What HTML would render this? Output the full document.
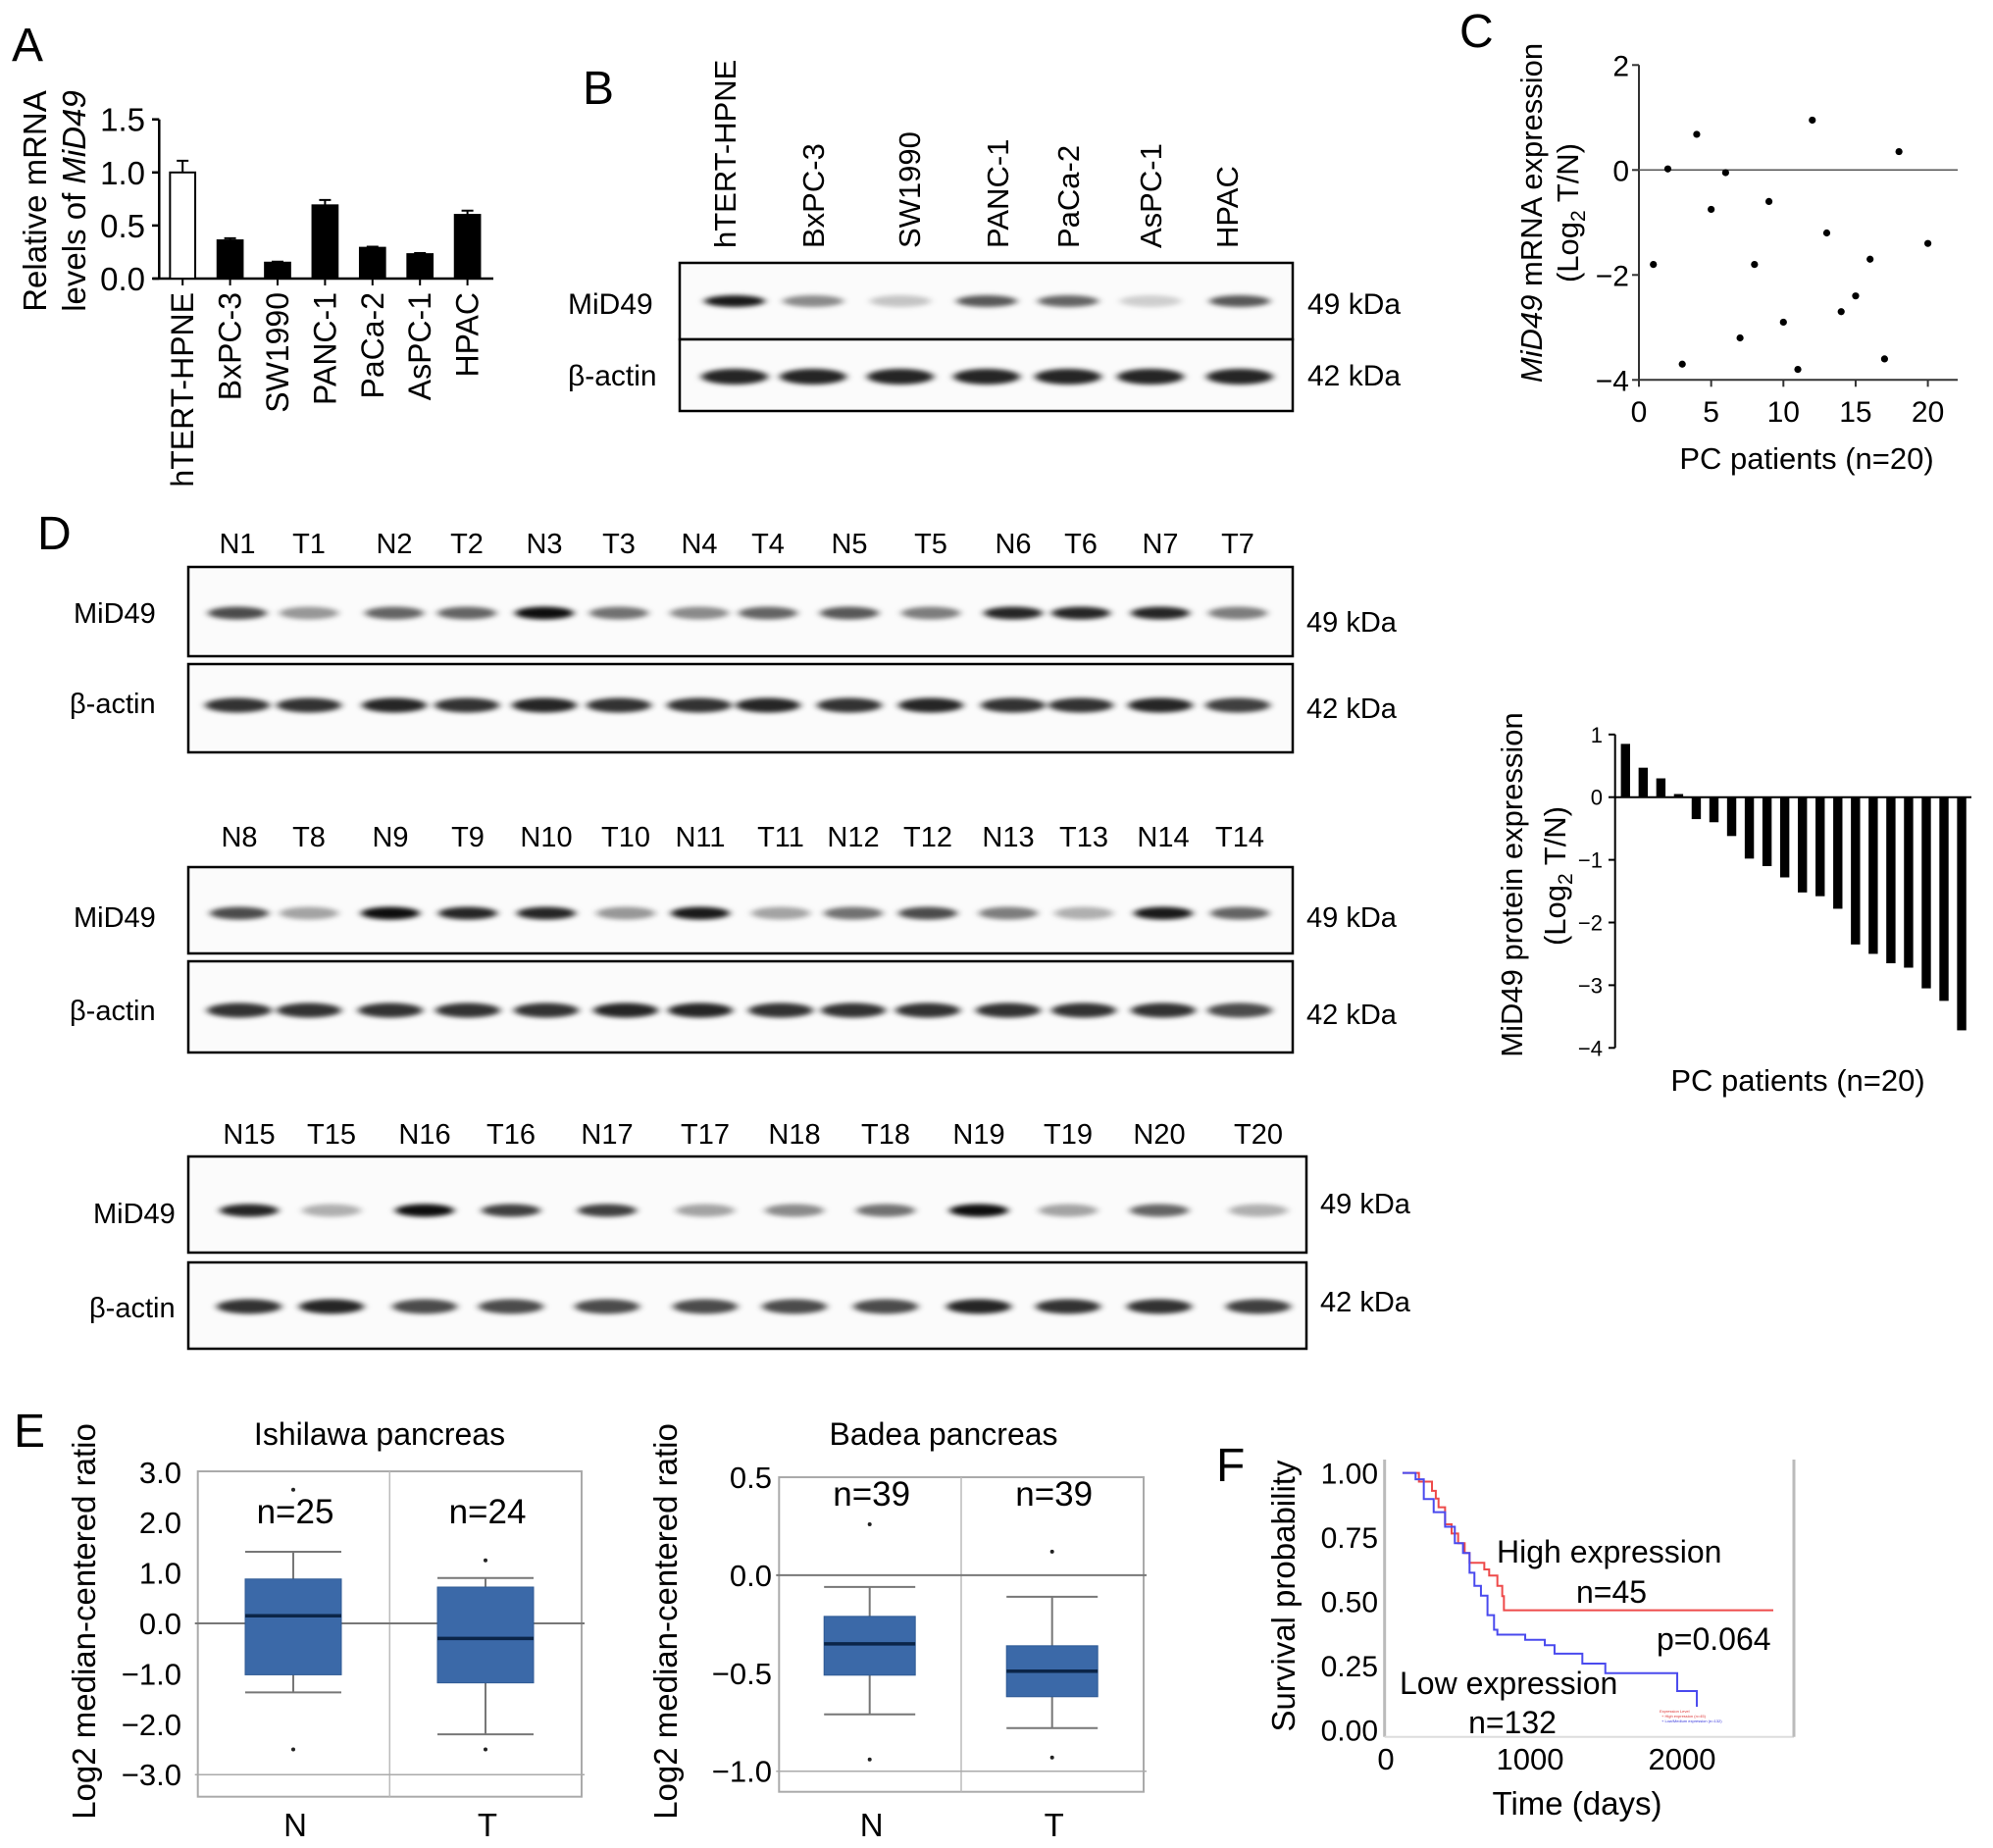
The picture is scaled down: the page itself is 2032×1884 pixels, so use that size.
<!DOCTYPE html>
<html><head><meta charset="utf-8">
<style>
body{margin:0;background:#fff}
svg{display:block;font-family:"Liberation Sans",Arial,sans-serif}
</style></head>
<body>
<svg id="fig" width="2032" height="1884" viewBox="0 0 2032 1884" xmlns="http://www.w3.org/2000/svg">
<defs>
<filter id="blur" x="-50%" y="-150%" width="200%" height="400%"><feGaussianBlur stdDeviation="4 2.5"/></filter>
</defs>
<rect x="0" y="0" width="2032" height="1884" fill="#fff"/>
<!-- panel letters -->
<text x="12" y="62" font-size="48">A</text>
<text x="594" y="106" font-size="48">B</text>
<text x="1488" y="48" font-size="48">C</text>
<text x="38" y="560" font-size="48">D</text>
<text x="14" y="1475" font-size="48">E</text>
<text x="1240" y="1510" font-size="48">F</text>

<!-- A titles -->
<text transform="translate(47,205) rotate(-90)" text-anchor="middle" font-size="33">Relative mRNA</text>
<text transform="translate(87,205) rotate(-90)" text-anchor="middle" font-size="33">levels of <tspan font-style="italic">MiD49</tspan></text>

<!-- B blot labels -->
<text x="579" y="320" font-size="30">MiD49</text>
<text x="579" y="393" font-size="30">β-actin</text>
<text x="1333" y="320" font-size="30">49 kDa</text>
<text x="1333" y="393" font-size="30">42 kDa</text>

<!-- C titles -->
<text transform="translate(1572,217) rotate(-90)" text-anchor="middle" font-size="31"><tspan font-style="italic">MiD49</tspan> mRNA expression</text>
<text transform="translate(1609,217) rotate(-90)" text-anchor="middle" font-size="31">(Log<tspan font-size="21" dy="7">2</tspan><tspan dy="-7"> T/N)</tspan></text>
<text x="1842" y="478" text-anchor="middle" font-size="31">PC patients (n=20)</text>

<!-- D bar chart titles -->
<text transform="translate(1552,902) rotate(-90)" text-anchor="middle" font-size="31">MiD49 protein expression</text>
<text transform="translate(1596,893) rotate(-90)" text-anchor="middle" font-size="31">(Log<tspan font-size="21" dy="7">2</tspan><tspan dy="-7"> T/N)</tspan></text>
<text x="1833" y="1112" text-anchor="middle" font-size="31">PC patients (n=20)</text>

<!-- E titles -->
<text x="387" y="1473" text-anchor="middle" font-size="32">Ishilawa pancreas</text>
<text transform="translate(97,1653) rotate(-90)" text-anchor="middle" font-size="33">Log2 median-centered ratio</text>
<text x="962" y="1473" text-anchor="middle" font-size="32">Badea pancreas</text>
<text transform="translate(690,1653) rotate(-90)" text-anchor="middle" font-size="33">Log2 median-centered ratio</text>

<!-- F texts -->
<text transform="translate(1320,1627) rotate(-90)" text-anchor="middle" font-size="33">Survival probability</text>
<text x="1608" y="1850" text-anchor="middle" font-size="33">Time (days)</text>
<text x="1526" y="1593" font-size="32">High expression</text>
<text x="1643" y="1634" text-anchor="middle" font-size="32">n=45</text>
<text x="1689" y="1682" font-size="32">p=0.064</text>
<text x="1427" y="1727" font-size="32">Low expression</text>
<text x="1542" y="1767" text-anchor="middle" font-size="32">n=132</text>
<g font-size="4">
<text x="1692" y="1746" fill="#d33">Expression Level</text>
<text x="1694" y="1751" fill="#d33">+ High expression (n=45)</text>
<text x="1694" y="1756" fill="#33d">+ Low/Medium expression (n=132)</text>
</g>
<g id="layer"></g>
</svg>
<script>
// ---------- Panel A data ----------
const aCats=['hTERT-HPNE','BxPC-3','SW1990','PANC-1','PaCa-2','AsPC-1','HPAC'];
const aVals=[1.0,0.36,0.15,0.69,0.29,0.23,0.60];
const aErr=[0.11,0.02,0.01,0.05,0.01,0.01,0.04];
const aTicks=[0,0.5,1.0,1.5];
const aTickLabels=['0.0','0.5','1.0','1.5'];
// ---------- Panel B data ----------
const bLanes=['hTERT-HPNE','BxPC-3','SW1990','PANC-1','PaCa-2','AsPC-1','HPAC'];
const bMid49=[0.9,0.45,0.22,0.65,0.6,0.18,0.65];
const bActin=[0.85,0.85,0.85,0.85,0.85,0.85,0.85];
// ---------- Panel C data ----------
const cPatients=[1,2,3,4,5,6,7,8,9,10,11,12,13,14,15,16,17,18,20];
const cValues=[-1.8,0.02,-3.7,0.68,-0.75,-0.05,-3.2,-1.8,-0.6,-2.9,-3.8,0.95,-1.2,-2.7,-2.4,-1.7,-3.6,0.35,-1.4];
const cYTicks=[2,0,-2,-4];
const cYTickLabels=['2','0','\u22122','\u22124'];
const cXTicks=[0,5,10,15,20];
// ---------- Panel D blots ----------
const dLanes1=['N1','T1','N2','T2','N3','T3','N4','T4','N5','T5','N6','T6','N7','T7'];
const dMid1=[0.7,0.4,0.6,0.6,0.95,0.55,0.45,0.6,0.65,0.5,0.85,0.85,0.85,0.5];
const dLanes2=['N8','T8','N9','T9','N10','T10','N11','T11','N12','T12','N13','T13','N14','T14'];
const dMid2=[0.7,0.35,0.95,0.85,0.85,0.4,0.9,0.35,0.55,0.7,0.5,0.3,0.9,0.6];
const dLanes3=['N15','T15','N16','T16','N17','T17','N18','T18','N19','T19','N20','T20'];
const dMid3=[0.85,0.3,0.95,0.75,0.75,0.35,0.45,0.55,0.95,0.35,0.6,0.3];
const dActin1=[0.8,0.8,0.85,0.8,0.85,0.8,0.8,0.85,0.8,0.85,0.8,0.8,0.85,0.75];
const dActin2=[0.8,0.8,0.8,0.8,0.8,0.85,0.85,0.8,0.8,0.8,0.8,0.8,0.8,0.7];
const dActin3=[0.8,0.85,0.7,0.7,0.7,0.7,0.7,0.7,0.85,0.8,0.8,0.75];
// ---------- Panel D bar chart ----------
const dBarVals=[0.85,0.47,0.3,0.05,-0.35,-0.4,-0.62,-0.98,-1.1,-1.28,-1.52,-1.58,-1.78,-2.35,-2.5,-2.65,-2.72,-3.05,-3.25,-3.72];
const dBarTicks=[1,0,-1,-2,-3,-4];
const dBarTickLabels=['1','0','\u22121','\u22122','\u22123','\u22124'];
// ---------- Panel E data ----------
const e1Groups=['N','T'];
const e1Counts=['n=25','n=24'];
const e1WhiskHi=[1.42,0.9];
const e1Q3=[0.88,0.72];
const e1Med=[0.15,-0.3];
const e1Q1=[-1.02,-1.18];
const e1WhiskLo=[-1.37,-2.2];
const e1OutHi=[2.65,1.25];
const e1OutLo=[-2.5,-2.5];
const e1Ticks=[3,2,1,0,-1,-2,-3];
const e1TickLabels=['3.0','2.0','1.0','0.0','\u22121.0','\u22122.0','\u22123.0'];
const e2Groups=['N','T'];
const e2Counts=['n=39','n=39'];
const e2WhiskHi=[-0.06,-0.11];
const e2Q3=[-0.21,-0.36];
const e2Med=[-0.35,-0.49];
const e2Q1=[-0.51,-0.62];
const e2WhiskLo=[-0.71,-0.78];
const e2OutHi=[0.26,0.12];
const e2OutLo=[-0.94,-0.93];
const e2Ticks=[0.5,0,-0.5,-1.0];
const e2TickLabels=['0.5','0.0','\u22120.5','\u22121.0'];
// ---------- Panel F data ----------
const fHighT=[161,269,355,380,398,441,484,527,570,602,699,731,785,817,828];
const fHighS=[1,0.966,0.93,0.90,0.866,0.80,0.764,0.726,0.688,0.65,0.624,0.6,0.56,0.52,0.465];
const fHighEnd=2600;
const fLowT=[161,247,301,366,441,505,559,602,634,677,720,763,785,968,1097,1161,1344,1495,1968,2097];
const fLowS=[1,0.975,0.898,0.847,0.79,0.726,0.688,0.611,0.56,0.522,0.446,0.389,0.37,0.35,0.329,0.296,0.257,0.22,0.15,0.089];
const fLowEnd=2097;
const fYTicks=[1,0.75,0.5,0.25,0];
const fYTickLabels=['1.00','0.75','0.50','0.25','0.00'];
const fXTicks=[0,1000,2000];

const NS='http://www.w3.org/2000/svg';
const layer=document.getElementById('layer');
function mk(tag,attrs,parent){const e=document.createElementNS(NS,tag);for(const k in attrs)e.setAttribute(k,attrs[k]);(parent||layer).appendChild(e);return e;}
function txt(s,attrs,parent){const e=mk('text',attrs,parent);e.textContent=s;return e;}

// ===== Panel A =====
const yA=v=>284-v*108.2, xA=i=>186.2+i*48.4;
let el;
el=mk('line',{x1:162.3,y1:yA(1.5),x2:162.3,y2:yA(0),stroke:'#000','stroke-width':2.5});


el=mk('line',{x1:156,y1:yA(0),x2:503,y2:yA(0),stroke:'#000','stroke-width':2.5});


aTicks.forEach((t,i)=>{
  const l=mk('line',{x1:155,y1:yA(t),x2:162.3,y2:yA(t),stroke:'#000','stroke-width':2.5});
  
  
  const tl=txt(aTickLabels[i],{x:148,y:yA(t)+12,'text-anchor':'end','font-size':33});
  
  
});
aCats.forEach((c,i)=>{
  const x=xA(i), w=25.7;
  const b=mk('rect',{x:x-w/2,y:yA(aVals[i]),width:w,height:yA(0)-yA(aVals[i]),fill:i===0?'#fff':'#000',stroke:'#000','stroke-width':2});
  
  
  const e=mk('path',{d:`M${x},${yA(aVals[i])} V${yA(aVals[i]+aErr[i])} M${x-6},${yA(aVals[i]+aErr[i])} H${x+6}`,stroke:'#000','stroke-width':2,fill:'none'});
  
  
  const tk=mk('line',{x1:x,y1:yA(0),x2:x,y2:yA(0)+7,stroke:'#000','stroke-width':2});
  
  
  const lb=txt(c,{transform:`translate(${x+11},298) rotate(-90)`,'text-anchor':'end','font-size':32});
  
  
});

// ===== Blot helper =====
function blot(x0,y0,w,h,name){
  const r=mk('rect',{x:x0,y:y0,width:w,height:h,fill:'#fbfbfb',stroke:'#000','stroke-width':2.5});
  
  
}
function band(x,y,val,bw,bh,name){
  const e=mk('ellipse',{cx:x,cy:y,rx:bw/2,ry:bh/2,fill:'#000','fill-opacity':val,filter:'url(#blur)'});
  
  
}

// ===== Panel B =====
const bLabelX=[739,829,927,1017,1089,1173,1251];
const bBandX=[749,829,918,1006,1089,1173,1264];
blot(693,268,625,78,'b-blot-mid49');
blot(693,346,625,73,'b-blot-actin');
bLanes.forEach((l,i)=>{
  const t=txt(l,{transform:`translate(${bLabelX[i]+11},253) rotate(-90)`,'font-size':31});
  
  
  band(bBandX[i],307,bMid49[i],62,12,'b-band-mid49');
  band(bBandX[i],384,bActin[i],68,16,'b-band-actin');
});

// ===== Panel C =====
const xC=v=>1671+v*14.73, yC=v=>173.3-v*53.5;
el=mk('line',{x1:1671,y1:yC(2),x2:1671,y2:yC(-4),stroke:'#333','stroke-width':2});


el=mk('line',{x1:1671,y1:yC(-4),x2:1996,y2:yC(-4),stroke:'#333','stroke-width':2});


el=mk('line',{x1:1671,y1:yC(0),x2:1996,y2:yC(0),stroke:'#555','stroke-width':1.5});


cYTicks.forEach((t,i)=>{
  const l=mk('line',{x1:1664,y1:yC(t),x2:1671,y2:yC(t),stroke:'#333','stroke-width':2});
  
  
  const tl=txt(cYTickLabels[i],{x:1661,y:yC(t)+11,'text-anchor':'end','font-size':30});
  
  
});
cXTicks.forEach(t=>{
  const l=mk('line',{x1:xC(t),y1:yC(-4),x2:xC(t),y2:yC(-4)+7,stroke:'#333','stroke-width':2});
  
  
  const tl=txt(String(t),{x:xC(t),y:430,'text-anchor':'middle','font-size':30});
  
  
});
cPatients.forEach((p,i)=>{
  const c=mk('circle',{cx:xC(p),cy:yC(cValues[i]),r:3.6,fill:'#000'});
  
  
});

// ===== Panel D blots =====
const dGroups=[
 {lanes:dLanes1,mid:dMid1,act:dActin1,xs:[242,315,402,476,555,631,713,783,866,949,1033,1102,1183,1262],lblY:564,b1:[578,669],b2:[677,767],bx:[192,1318],midY:625,actY:719,t1:644,t2:732,m1:635,m2:727,lx:75},
 {lanes:dLanes2,mid:dMid2,act:dActin2,xs:[244,315,398,477,557,638,714,796,870,946,1028,1105,1186,1264],lblY:863,b1:[884,972],b2:[980,1073],bx:[192,1318],midY:931,actY:1030,t1:945,t2:1044,m1:945,m2:1040,lx:75},
 {lanes:dLanes3,mid:dMid3,act:dActin3,xs:[254,338,433,521,619,719,810,903,998,1089,1182,1283],lblY:1166,b1:[1179,1277],b2:[1287,1375],bx:[192,1332],midY:1234,actY:1332,t1:1237,t2:1337,m1:1247,m2:1343,lx:95}
];
dGroups.forEach((g,gi)=>{
  blot(g.bx[0],g.b1[0],g.bx[1]-g.bx[0],g.b1[1]-g.b1[0],'d-blot-mid49-'+(gi+1));
  blot(g.bx[0],g.b2[0],g.bx[1]-g.bx[0],g.b2[1]-g.b2[0],'d-blot-actin-'+(gi+1));
  let t=txt('MiD49',{x:g.lx,y:g.m1,'font-size':29});
  
  
  t=txt('β-actin',{x:g.lx-4,y:g.m2,'font-size':29});
  
  
  t=txt('49 kDa',{x:g.bx[1]+14,y:g.t1,'font-size':29});
  
  
  t=txt('42 kDa',{x:g.bx[1]+14,y:g.t2,'font-size':29});
  
  
  g.lanes.forEach((l,i)=>{
    const lt=txt(l,{x:g.xs[i],y:g.lblY,'text-anchor':'middle','font-size':29});
    
    
    band(g.xs[i],g.midY,g.mid[i],60,13,'d-band-mid49');
    band(g.xs[i],g.actY,g.act[i],66,15,'d-band-actin');
  });
});

// ===== Panel D bar chart =====
const yD=v=>812.7-v*63.9, xD=i=>1657.3+i*18.04;
el=mk('line',{x1:1646.7,y1:yD(1),x2:1646.7,y2:yD(-4),stroke:'#000','stroke-width':2});


el=mk('line',{x1:1646.7,y1:yD(0),x2:2010,y2:yD(0),stroke:'#000','stroke-width':2});


dBarTicks.forEach((t,i)=>{
  const l=mk('line',{x1:1640,y1:yD(t),x2:1646.7,y2:yD(t),stroke:'#000','stroke-width':2});
  
  
  const tl=txt(dBarTickLabels[i],{x:1634,y:yD(t)+8,'text-anchor':'end','font-size':22});
  
  
});
dBarVals.forEach((v,i)=>{
  const y1=Math.min(yD(0),yD(v)), h=Math.abs(yD(v)-yD(0));
  const b=mk('rect',{x:xD(i)-4.7,y:y1,width:9.4,height:h,fill:'#000'});
  
  
});

// ===== Panel E =====
function boxPlot(cfg){
  const {x0,x1,div,top,bot,yS,ticks,tickLabels,groups,counts,hi,q3,med,q1,lo,oh,ol,centers,bw,tickX,nY,pre,gridVals,labY}=cfg;
  const f=mk('rect',{x:x0,y:top,width:x1-x0,height:bot-top,fill:'none',stroke:'#aaa','stroke-width':2});
  
  
  const d=mk('line',{x1:div,y1:top,x2:div,y2:bot,stroke:'#bbb','stroke-width':1.5});
  
  
  gridVals.forEach(g=>{
    const gl=mk('line',{x1:x0-3,y1:yS(g),x2:x1+3,y2:yS(g),stroke:g===0?'#777':'#aaa','stroke-width':g===0?2:1.5});
    
    
  });
  ticks.forEach((t,i)=>{
    const tl=txt(tickLabels[i],{x:tickX,y:yS(t)+11,'text-anchor':'end','font-size':31});
    
    
  });
  groups.forEach((g,i)=>{
    const cx=centers[i];
    const w=mk('path',{d:`M${cx},${yS(hi[i])}V${yS(q3[i])}M${cx},${yS(q1[i])}V${yS(lo[i])}M${cx-bw/2},${yS(hi[i])}H${cx+bw/2}M${cx-bw/2},${yS(lo[i])}H${cx+bw/2}`,stroke:'#777','stroke-width':2,fill:'none'});
    
    
    const b=mk('rect',{x:cx-bw/2,y:yS(q3[i]),width:bw,height:yS(q1[i])-yS(q3[i]),fill:'#3b69a8',stroke:'#2f5a94','stroke-width':1});
    
    
    const m=mk('line',{x1:cx-bw/2,y1:yS(med[i]),x2:cx+bw/2,y2:yS(med[i]),stroke:'#0b2548','stroke-width':3.5});
    
    
    [oh[i],ol[i]].forEach(o=>{
      const p=mk('circle',{cx:cx,cy:yS(o),r:2,fill:'#222'});
      
      
    });
    const n=txt(counts[i],{x:cx+2,y:nY,'text-anchor':'middle','font-size':35});
    
    
    const gl=txt(g,{x:cx+2,y:labY,'text-anchor':'middle','font-size':33});
    
    
  });
}
boxPlot({x0:201.7,x1:593,div:397.3,top:1500,bot:1831.7,yS:v=>1655-v*51.4,ticks:e1Ticks,tickLabels:e1TickLabels,
  groups:e1Groups,counts:e1Counts,hi:e1WhiskHi,q3:e1Q3,med:e1Med,q1:e1Q1,lo:e1WhiskLo,oh:e1OutHi,ol:e1OutLo,
  centers:[299,495],bw:98,tickX:185,nY:1553,pre:'e1',gridVals:[0,-3],labY:1872});
boxPlot({x0:794.3,x1:1166,div:980,top:1506,bot:1826.7,yS:v=>1605.9-v*199.8,ticks:e2Ticks,tickLabels:e2TickLabels,
  groups:e2Groups,counts:e2Counts,hi:e2WhiskHi,q3:e2Q3,med:e2Med,q1:e2Q1,lo:e2WhiskLo,oh:e2OutHi,ol:e2OutLo,
  centers:[886.7,1072.7],bw:93,tickX:787,nY:1535,pre:'e2',gridVals:[0,-1],labY:1872});

// ===== Panel F =====
const xF=t=>1405+t*0.155, yF=p=>1763.3-p*261.7;
el=mk('line',{x1:1411.7,y1:1488,x2:1411.7,y2:1770.7,stroke:'#bbb','stroke-width':3});


el=mk('line',{x1:1411.7,y1:1770.7,x2:1829,y2:1770.7,stroke:'#ddd','stroke-width':2});


el=mk('line',{x1:1829,y1:1488,x2:1829,y2:1770.7,stroke:'#bbb','stroke-width':3});


fYTicks.forEach((t,i)=>{
  const tl=txt(fYTickLabels[i],{x:1405,y:yF(t)+11,'text-anchor':'end','font-size':30});
  
  
});
fXTicks.forEach(t=>{
  const tl=txt(String(t),{x:xF(t)+(t===0?8:0),y:1804,'text-anchor':'middle','font-size':31});
  
  
});
function stepPath(T,S,end){
  let d=`M${xF(T[0])},${yF(S[0])}`;
  for(let i=1;i<T.length;i++){d+=`H${xF(T[i])}V${yF(S[i])}`;}
  d+=`H${xF(end)}`;
  return d;
}
el=mk('path',{d:stepPath(fHighT,fHighS,fHighEnd),stroke:'#ee4a4a','stroke-width':2,fill:'none'});


el=mk('path',{d:stepPath(fLowT,fLowS,fLowEnd),stroke:'#4a4aee','stroke-width':2,fill:'none'});


</script>
</body></html>
